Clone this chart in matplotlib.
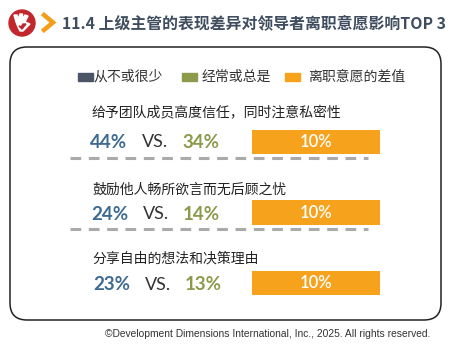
import matplotlib.pyplot as plt
from matplotlib.patches import FancyBboxPatch, Circle, Rectangle, Polygon

plt.rcParams['font.family'] = ['Noto Sans CJK SC', 'DejaVu Sans']

# dados
titulo = '11.4 上级主管的表现差异对领导者离职意愿影响TOP 3'
legenda = ['从不或很少', '经常或总是', '离职意愿的差值']
comportamentos = ['给予团队成员高度信任，同时注意私密性',
                  '鼓励他人畅所欲言而无后顾之忧',
                  '分享自由的想法和决策理由']
nunca = [44, 24, 23]
sempre = [34, 14, 13]
diferenca = [10, 10, 10]
rodape = '©Development Dimensions International, Inc., 2025. All rights reserved.'

cor_escuro = '#4a5566'
cor_oliva = '#8b9a4b'
cor_laranja = '#f7a21c'
cor_azul = '#3d6a92'
cor_titulo = '#3f4d5e'

fig = plt.figure(figsize=(4.59, 3.54), dpi=100)
ax = fig.add_axes([0, 0, 1, 1])
ax.set_xlim(0, 459)
ax.set_ylim(354, 0)
ax.axis('off')

# logo
ax.add_patch(Circle((22, 23), 13, color='#c1272d'))
ax.add_patch(Polygon([(14, 15), (17, 15), (18, 19), (20, 14), (22.5, 14), (22.5, 19), (25, 15),
                      (28, 16), (25, 22), (30, 24), (23, 31), (20, 31), (18, 27), (16, 22)],
                     closed=True, color='white'))
ax.add_patch(Polygon([(19, 26), (22, 29), (26, 24), (23, 24), (21, 27)], closed=True, color='#c1272d'))

# seta do título
ax.plot([44, 53, 44], [15, 22.5, 30], color='#f59d16', lw=3.2, solid_joinstyle='miter')
ax.text(62, 23, titulo, fontsize=11.4, fontweight='bold', color=cor_titulo, va='center', ha='left')

# caixa arredondada
ax.add_patch(FancyBboxPatch((10, 47), 431, 273, boxstyle='round,pad=0,rounding_size=17',
                            fill=False, ec='#222222', lw=1.1))

# legenda
cores_leg = [cor_escuro, cor_oliva, cor_laranja]
x_quad = [78, 182, 285]
x_txt = [93, 202, 308]
for c, xq, xt, t in zip(cores_leg, x_quad, x_txt, legenda):
    ax.add_patch(Rectangle((xq, 73), 15, 8, color=c))
    ax.text(xt, 77, t, fontsize=10, color='#333333', va='center', ha='left')

# linhas
y_label = [113, 190, 259]
y_num = [142, 214, 285]
y_dash = [158, 229]
x_num = [90, 91, 93]

for i in range(len(comportamentos)):
    ax.text(92, y_label[i], comportamentos[i], fontsize=10, color='#222222', va='center', ha='left')
    ax.text(x_num[i], y_num[i], f'{nunca[i]}%', fontsize=13.5, fontweight='bold',
            color=cor_azul, va='center', ha='left', family='Lato')
    ax.text(x_num[i] + 52, y_num[i], 'VS.', fontsize=13, color='#333333',
            va='center', ha='left', family='Lato')
    ax.text(x_num[i] + 92, y_num[i], f'{sempre[i]}%', fontsize=13.5, fontweight='bold',
            color=cor_oliva, va='center', ha='left', family='Lato')

for y in y_dash:
    ax.plot([70, 368], [y, y], color='#aaaaaa', lw=2.2, dashes=(3.5, 2.5))

# barras da diferença
ax_b = fig.add_axes([252 / 459, 1 - 300 / 354, 128 / 459, 180 / 354])
ax_b.set_xlim(0, 10)
ax_b.set_ylim(300, 120)
ax_b.axis('off')
y_bar = [142, 212.5, 283]
ax_b.barh(y_bar, diferenca, height=24.5, color=cor_laranja)
for y, d in zip(y_bar, diferenca):
    ax_b.text(d / 2, y, f'{d}%', color='white', fontsize=12, ha='center', va='center',
              family='Lato', fontweight='semibold')

ax.text(430, 334, rodape, fontsize=7.4, color='#333333', ha='right', va='center', family='Liberation Sans')

fig.savefig('out.png', dpi=100)
